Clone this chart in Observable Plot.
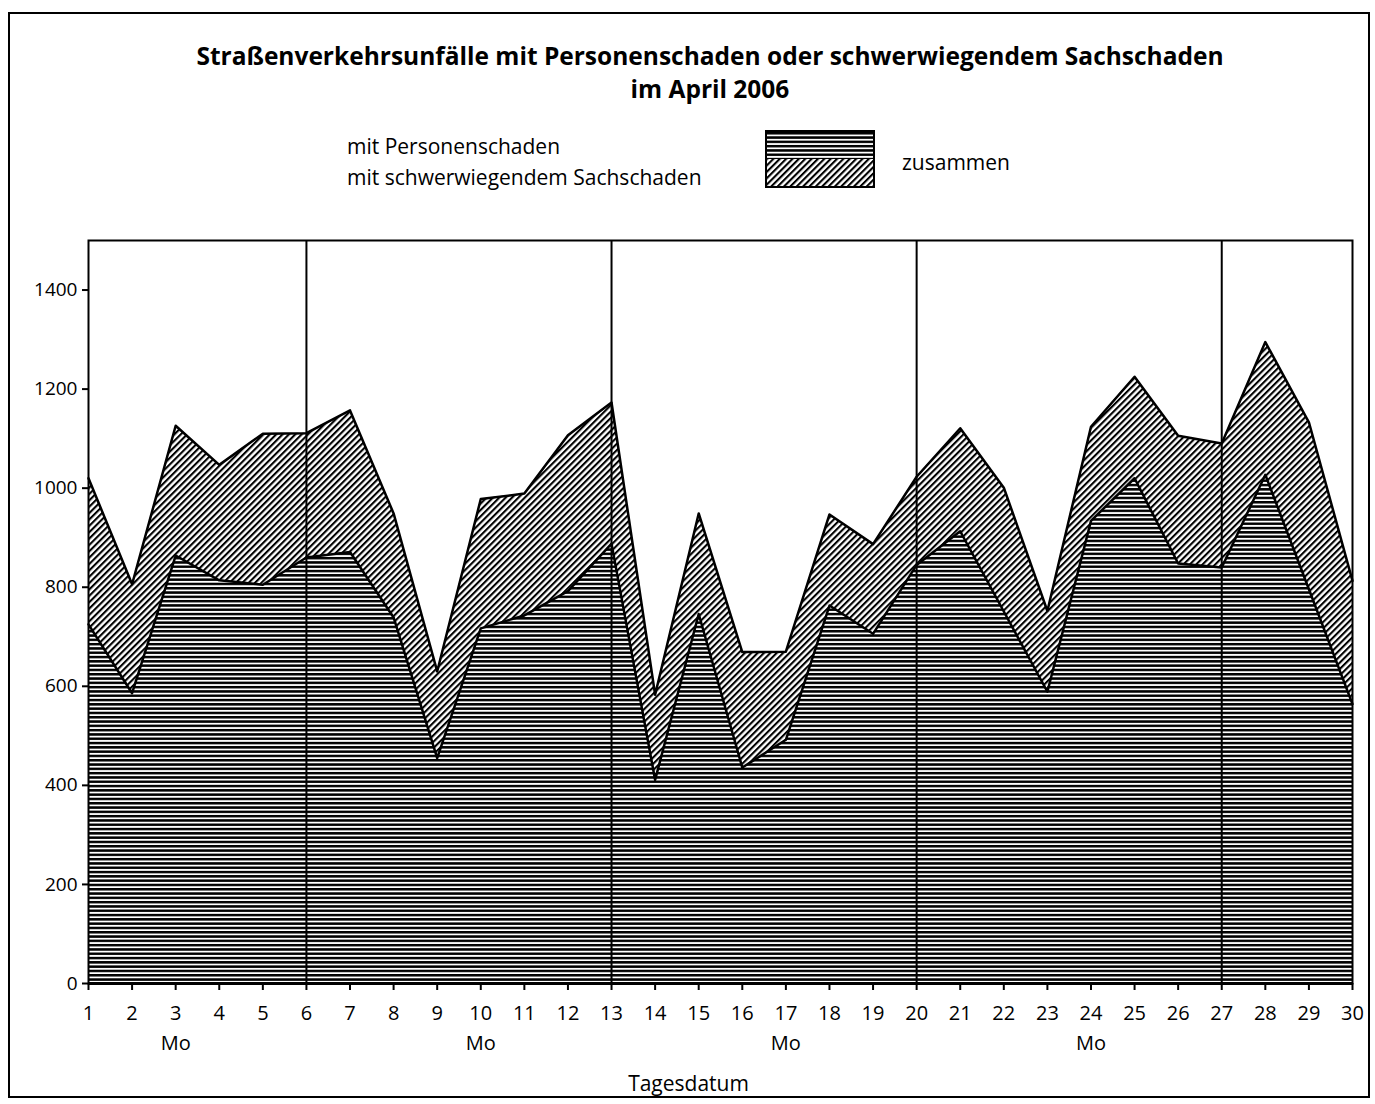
<!DOCTYPE html>
<html>
<head>
<meta charset="utf-8">
<script src="https://cdn.jsdelivr.net/npm/d3@7"></script>
<script src="https://cdn.jsdelivr.net/npm/@observablehq/plot@0.6"></script>
<style>
  html, body { margin: 0; padding: 0; background: #fff; }
  body { width: 1375px; height: 1104px; position: relative; font-family: "Open Sans", sans-serif; color: #000; overflow: hidden; }
  #frame { position: absolute; left: 8px; top: 12px; width: 1362px; height: 1086px; border: 2px solid #000; box-sizing: border-box; }
  #title { position: absolute; left: 0; width: 1420px; top: 39px; text-align: center; font-weight: 700; font-size: 24.5px; line-height: 33px; }
  .leg { position: absolute; font-size: 21px; line-height: 26px; white-space: nowrap; }
  #swatch { position: absolute; left: 765px; top: 130px; width: 110px; height: 58px; border: 2px solid #000; box-sizing: border-box; }
  #chart { position: absolute; left: 0; top: 200px; }
</style>
</head>
<body>
<svg width="0" height="0" style="position:absolute">
  <defs>
    <pattern id="hstripes" patternUnits="userSpaceOnUse" width="10" height="4.3">
      <rect x="0" y="0" width="10" height="4.3" fill="#fff"></rect>
      <rect x="0" y="0" width="10" height="2.5" fill="#000"></rect>
    </pattern>
    <pattern id="hatch" patternUnits="userSpaceOnUse" width="4.5" height="10" patternTransform="rotate(45)">
      <rect x="0" y="0" width="4.5" height="10" fill="#fff"></rect>
      <rect x="0" y="0" width="2.1" height="10" fill="#000"></rect>
    </pattern>
  </defs>
</svg>
<div id="frame"></div>
<div id="title">Straßenverkehrsunfälle mit Personenschaden oder schwerwiegendem Sachschaden<br>im April 2006</div>
<div class="leg" style="left:347px; top:133px;">mit Personenschaden</div>
<div class="leg" style="left:347px; top:164px;">mit schwerwiegendem Sachschaden</div>
<div id="swatch">
  <svg width="106" height="54" style="display:block">
    <rect x="0" y="0" width="106" height="27" fill="url(#hstripes)"></rect>
    <rect x="0" y="27" width="106" height="27" fill="url(#hatch)"></rect>
  </svg>
</div>
<div class="leg" style="left:902px; top:149px;">zusammen</div>
<div id="chart"></div>
<script>
// Tagesdatum (April 2006)
const days = d3.range(1, 31);
// Unfälle mit Personenschaden
const personen = [725, 586, 864, 814, 805, 860, 871, 739, 455, 717,
                  743, 792, 888, 411, 746, 436, 492, 763, 706, 845,
                  913, 751, 589, 934, 1020, 848, 840, 1027, 796, 564];
// Zusammen (Personenschaden + schwerwiegender Sachschaden)
const zusammen = [1020, 806, 1126, 1047, 1110, 1111, 1157, 949, 630, 978,
                  989, 1107, 1173, 583, 949, 669, 670, 947, 887, 1023,
                  1121, 1001, 752, 1124, 1225, 1106, 1090, 1295, 1133, 813];
const montage = [3, 10, 17, 24];
const wochenLinien = [6, 13, 20, 27];
const yTicks = [0, 200, 400, 600, 800, 1000, 1200, 1400];

const data = days.map((d, i) => ({tag: d, p: personen[i], z: zusammen[i]}));

const chart = Plot.plot({
  width: 1375,
  height: 900,
  marginLeft: 88,
  marginRight: 23,
  marginTop: 40,
  marginBottom: 117,
  style: {fontFamily: "Open Sans, sans-serif", fontSize: "20px", color: "#000", background: "transparent"},
  x: {domain: [1, 30], label: null},
  y: {domain: [0, 1500], label: null},
  marks: [
    Plot.areaY(data, {x: "tag", y1: 0, y2: "p", fill: "url(#hstripes)"}),
    Plot.areaY(data, {x: "tag", y1: "p", y2: "z", fill: "url(#hatch)"}),
    Plot.lineY(data, {x: "tag", y: "p", stroke: "#000", strokeWidth: 2.5}),
    Plot.lineY(data, {x: "tag", y: "z", stroke: "#000", strokeWidth: 2.5}),
    Plot.ruleX(wochenLinien, {stroke: "#000", strokeWidth: 2}),
    Plot.ruleY([0], {stroke: "#000", strokeWidth: 3}),
    Plot.frame({stroke: "#000", strokeWidth: 2}),
    Plot.axisX({ticks: days, tickFormat: d => String(d), tickSize: 7, tickPadding: 15, strokeWidth: 2, fontSize: 20}),
    Plot.axisY({ticks: yTicks, tickFormat: d => String(d), tickSize: 6, tickPadding: 5, strokeWidth: 2, fontSize: 19}),
    Plot.text(montage, {x: d => d, frameAnchor: "bottom", dy: 66, text: () => "Mo", fontSize: 20}),
    Plot.text(["Tagesdatum"], {frameAnchor: "bottom", dx: -32, dy: 107, text: d => d, fontSize: 21})
  ]
});
document.getElementById("chart").appendChild(chart);
</script>
</body>
</html>
